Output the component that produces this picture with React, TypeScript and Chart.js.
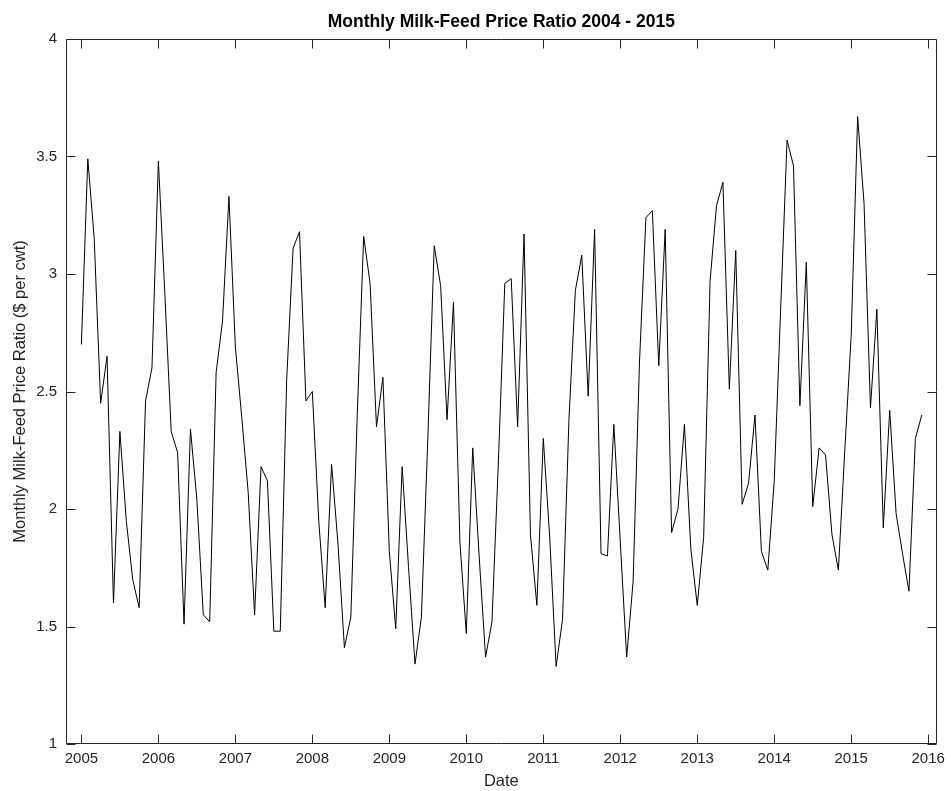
import React, { useEffect, useRef } from "react";
import { Chart, registerables } from "chart.js";

Chart.register(...registerables);

const TITLE = "Monthly Milk-Feed Price Ratio 2004 - 2015";
const X_TITLE = "Date";
const Y_TITLE = "Monthly Milk-Feed Price Ratio ($ per cwt)";

const START_YEAR = 2005;
const YEAR_TICKS = [2005, 2006, 2007, 2008, 2009, 2010, 2011, 2012, 2013, 2014, 2015, 2016];
const VALUE_TICKS = [1, 1.5, 2, 2.5, 3, 3.5, 4];

// Monthly milk-feed price ratio, Jan..Dec of each year
const ratio2005 = [2.70, 3.49, 3.15, 2.45, 2.65, 1.60, 2.33, 1.95, 1.70, 1.58, 2.46, 2.60];
const ratio2006 = [3.48, 2.92, 2.33, 2.24, 1.51, 2.34, 2.04, 1.55, 1.52, 2.58, 2.80, 3.33];
const ratio2007 = [2.69, 2.39, 2.07, 1.55, 2.18, 2.12, 1.48, 1.48, 2.55, 3.11, 3.18, 2.46];
const ratio2008 = [2.50, 1.95, 1.58, 2.19, 1.85, 1.41, 1.54, 2.40, 3.16, 2.96, 2.35, 2.56];
const ratio2009 = [1.82, 1.49, 2.18, 1.75, 1.34, 1.54, 2.30, 3.12, 2.95, 2.38, 2.88, 1.86];
const ratio2010 = [1.47, 2.26, 1.80, 1.37, 1.52, 2.20, 2.96, 2.98, 2.35, 3.17, 1.89, 1.59];
const ratio2011 = [2.30, 1.88, 1.33, 1.53, 2.38, 2.93, 3.08, 2.48, 3.19, 1.81, 1.80, 2.36];
const ratio2012 = [1.86, 1.37, 1.69, 2.63, 3.24, 3.27, 2.61, 3.19, 1.90, 2.00, 2.36, 1.83];
const ratio2013 = [1.59, 1.88, 2.97, 3.29, 3.39, 2.51, 3.10, 2.02, 2.11, 2.40, 1.82, 1.74];
const ratio2014 = [2.12, 2.85, 3.57, 3.46, 2.44, 3.05, 2.01, 2.26, 2.23, 1.89, 1.74, 2.25];
const ratio2015 = [2.74, 3.67, 3.30, 2.43, 2.85, 1.92, 2.42, 1.98, 1.81, 1.65, 2.30, 2.40];

const allRatios = [
  ...ratio2005, ...ratio2006, ...ratio2007, ...ratio2008, ...ratio2009, ...ratio2010,
  ...ratio2011, ...ratio2012, ...ratio2013, ...ratio2014, ...ratio2015,
];

const X_MIN = 2004.8;
const X_MAX = 2016.11;

const AXIS_COLOR = "#262626";
const FONT = "'Liberation Sans', Arial, Helvetica, sans-serif";

const framePlugin = {
  id: "matlabFrame",
  afterDraw(chart: any) {
    const { ctx, chartArea, scales } = chart;
    const { left, right, top, bottom } = chartArea;
    const xs = scales.x;
    const ys = scales.y;
    const TL = 9;
    ctx.save();
    ctx.strokeStyle = AXIS_COLOR;
    ctx.lineWidth = 1;
    ctx.beginPath();
    const L = Math.round(left) + 0.5;
    const R = Math.round(right) - 0.5;
    const T = Math.round(top) + 0.5;
    const B = Math.round(bottom) - 0.5;
    ctx.rect(L, T, R - L, B - T);
    for (const t of xs.ticks) {
      const px = Math.round(xs.getPixelForValue(t.value)) + 0.5;
      ctx.moveTo(px, B);
      ctx.lineTo(px, B - TL);
      ctx.moveTo(px, T);
      ctx.lineTo(px, T + TL);
    }
    for (const t of ys.ticks) {
      const py = Math.round(ys.getPixelForValue(t.value)) + 0.5;
      ctx.moveTo(L, py);
      ctx.lineTo(L + TL, py);
      ctx.moveTo(R, py);
      ctx.lineTo(R - TL, py);
    }
    ctx.stroke();

    const cx = (left + right) / 2;
    ctx.fillStyle = "#000000";
    ctx.textAlign = "center";
    ctx.textBaseline = "middle";
    ctx.font = `bold 17.5px ${FONT}`;
    ctx.fillText(TITLE, cx, 22);

    ctx.fillStyle = AXIS_COLOR;
    ctx.font = `16.5px ${FONT}`;
    ctx.fillText(X_TITLE, cx, 781);

    ctx.save();
    ctx.translate(20, (top + bottom) / 2);
    ctx.rotate(-Math.PI / 2);
    ctx.fillText(Y_TITLE, 0, 0);
    ctx.restore();
    ctx.restore();
  },
};

export default function App() {
  const ref = useRef<HTMLCanvasElement | null>(null);

  useEffect(() => {
    document.body.style.margin = "0";
    const canvas = ref.current;
    if (!canvas) return;
    const points = allRatios.map((v, i) => ({ x: START_YEAR + i / 12, y: v }));
    const chart = new Chart(canvas, {
      type: "line",
      data: {
        datasets: [
          {
            data: points,
            borderColor: "#000000",
            borderWidth: 1,
            pointRadius: 0,
            tension: 0,
            fill: false,
          },
        ],
      },
      options: {
        animation: false,
        responsive: false,
        devicePixelRatio: 1,
        layout: { padding: { top: 39, right: 12, left: 0, bottom: 0 } },
        plugins: {
          legend: { display: false },
          title: { display: false },
          tooltip: { enabled: false },
        },
        scales: {
          x: {
            type: "linear",
            min: X_MIN,
            max: X_MAX,
            afterBuildTicks: (scale: any) => {
              scale.ticks = YEAR_TICKS.map((v) => ({ value: v }));
            },
            afterFit: (scale: any) => {
              scale.height = 47;
            },
            grid: { display: false, drawTicks: false },
            border: { display: false },
            ticks: {
              color: AXIS_COLOR,
              font: { family: FONT, size: 15 },
              padding: 6,
              maxRotation: 0,
              autoSkip: false,
              callback: (v: any) => String(v),
            },
          },
          y: {
            type: "linear",
            min: 1,
            max: 4,
            afterBuildTicks: (scale: any) => {
              scale.ticks = VALUE_TICKS.map((v) => ({ value: v }));
            },
            afterFit: (scale: any) => {
              scale.width = 66;
            },
            grid: { display: false, drawTicks: false },
            border: { display: false },
            ticks: {
              color: AXIS_COLOR,
              font: { family: FONT, size: 15 },
              padding: 9,
              autoSkip: false,
              callback: (v: any) => String(v),
            },
          },
        },
      },
      plugins: [framePlugin],
    });
    return () => chart.destroy();
  }, []);

  return (
    <div style={{ width: 951, height: 791 }}>
      <canvas ref={ref} width={951} height={791} style={{ display: "block" }} />
    </div>
  );
}
